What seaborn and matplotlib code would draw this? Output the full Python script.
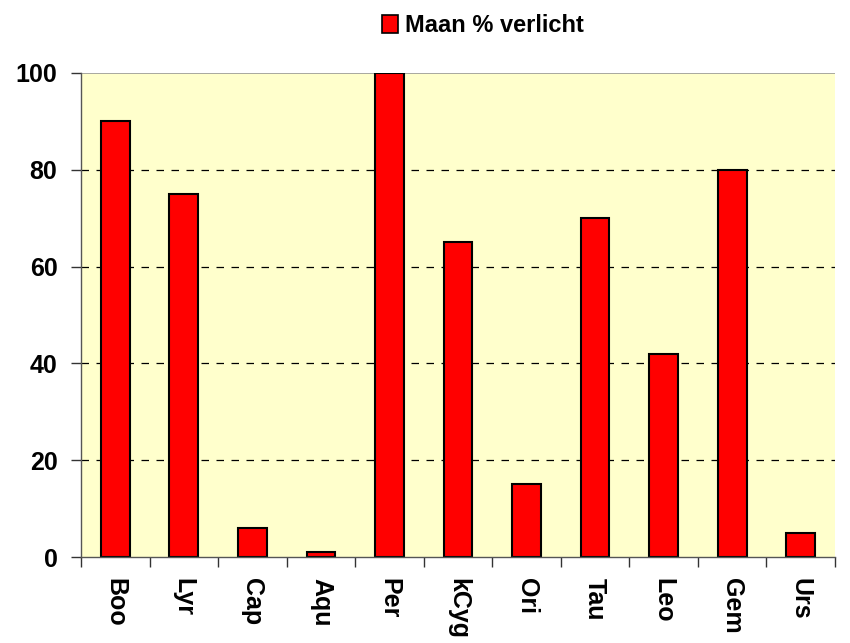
import matplotlib
matplotlib.use('Agg')
import matplotlib.pyplot as plt
import seaborn as sns
import pandas as pd
from matplotlib.patches import Patch

# Meteorenzwermen en maanverlichting
zwermen = ['Boo', 'Lyr', 'Cap', 'Aqu', 'Per', 'kCyg', 'Ori', 'Tau', 'Leo', 'Gem', 'Urs']
maan_pct = [90, 75, 6, 1, 100, 65, 15, 70, 42, 80, 5]
y_ticks = [0, 20, 40, 60, 80, 100]
legenda = 'Maan % verlicht'

sns.set_theme(style='white')
plt.rcParams['font.family'] = ['Liberation Sans', 'DejaVu Sans']
plt.rcParams['text.color'] = 'black'
plt.rcParams['xtick.color'] = 'black'
plt.rcParams['ytick.color'] = 'black'

df = pd.DataFrame({'Zwerm': zwermen, 'Maan': maan_pct})

fig = plt.figure(figsize=(8.5, 6.43), dpi=100)
ax = fig.add_axes([0.0953, 0.1337, 0.887, 0.7528])

sns.barplot(data=df, x='Zwerm', y='Maan', color='#FF0000', edgecolor='black',
            linewidth=1.5, width=0.42, saturation=1, ax=ax)

ax.set_facecolor('#FFFFCC')
ax.set_ylim(0, 100)
ax.set_xlim(-0.5, len(zwermen) - 0.5)
ax.set_yticks(y_ticks)
ax.set_yticklabels([str(t) for t in y_ticks], fontsize=18, fontweight='bold')

# gridlijnen gestreept
for t in y_ticks[1:-1]:
    ax.axhline(t, color='black', linestyle=(0, (6, 6)), linewidth=0.9, zorder=0.5)
ax.axhline(100, color='#999999', linewidth=1.2, zorder=0.5)

# x ticks tussen categorieen
ax.set_xticks([i - 0.5 for i in range(len(zwermen) + 1)], minor=False)
ax.set_xticklabels([])
ax.set_xticks(range(len(zwermen)), minor=True)
ax.set_xticklabels(zwermen, minor=True, rotation=-90, fontsize=18, fontweight='bold')
ax.tick_params(axis='x', which='minor', length=0, pad=15)
ax.tick_params(axis='x', which='major', length=7, width=1, color='#333333', direction='out', bottom=True)
ax.tick_params(axis='y', length=7, width=1, color='#333333', labelcolor='black',
               direction='out', left=True, pad=10)

for s in ['top', 'right']:
    ax.spines[s].set_visible(False)
for s in ['left', 'bottom']:
    ax.spines[s].set_color('#555555')
    ax.spines[s].set_linewidth(1)

ax.set_xlabel('')
ax.set_ylabel('')

handle = Patch(facecolor='#FF0000', edgecolor='black', linewidth=1.2)
fig.legend([handle], [legenda], loc='center', bbox_to_anchor=(0.568, 0.96),
           frameon=False, handlelength=0.7, handleheight=0.85, handletextpad=0.3,
           prop={'weight': 'bold', 'size': 17})

fig.savefig('out.png', dpi=100)
